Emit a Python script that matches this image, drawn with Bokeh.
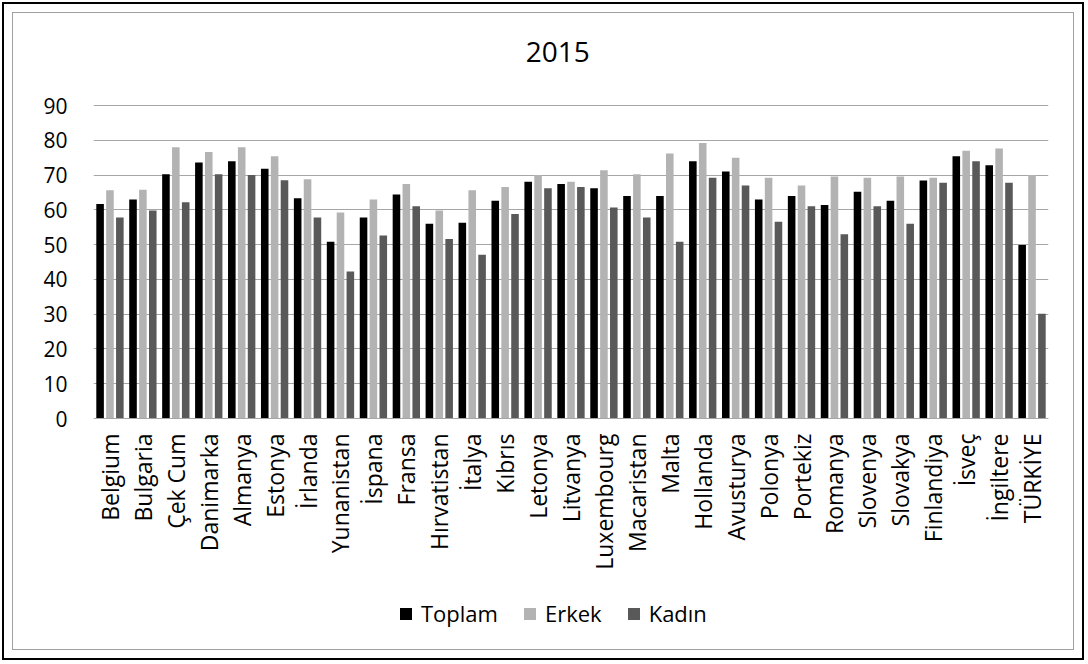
from bokeh.plotting import figure
from bokeh.models import (ColumnDataSource, FactorRange, Range1d, Legend, LegendItem,
                          FixedTicker, Label)
from bokeh.transform import dodge
from bokeh.embed import file_html
from bokeh.resources import INLINE

countries = ["Belgium", "Bulgaria", "Çek Cum", "Danimarka", "Almanya", "Estonya", "İrlanda",
             "Yunanistan", "İspana", "Fransa", "Hırvatistan", "İtalya", "Kıbrıs", "Letonya",
             "Litvanya", "Luxembourg", "Macaristan", "Malta", "Hollanda", "Avusturya", "Polonya",
             "Portekiz", "Romanya", "Slovenya", "Slovakya", "Finlandiya", "İsveç", "İngiltere",
             "TÜRKİYE"]
toplam = [61.7, 63.0, 70.2, 73.6, 74.0, 71.8, 63.3, 50.8, 57.8, 64.4, 56.0, 56.3, 62.6, 68.1,
          67.4, 66.2, 64.0, 64.0, 74.0, 71.0, 63.0, 64.0, 61.4, 65.2, 62.6, 68.4, 75.4, 72.8, 49.9]
erkek = [65.6, 65.8, 78.0, 76.6, 78.0, 75.4, 68.8, 59.2, 63.0, 67.4, 59.8, 65.6, 66.6, 70.0,
         68.1, 71.4, 70.2, 76.2, 79.2, 75.0, 69.2, 67.0, 69.6, 69.2, 69.6, 69.2, 77.0, 77.6, 70.0]
kadin = [57.8, 59.8, 62.2, 70.2, 70.0, 68.5, 57.8, 42.3, 52.6, 61.0, 51.6, 47.1, 58.8, 66.2,
         66.6, 60.7, 57.8, 50.8, 69.2, 67.0, 56.6, 61.0, 53.0, 61.0, 56.0, 67.8, 74.0, 67.8, 30.1]
y_ticks = [0, 10, 20, 30, 40, 50, 60, 70, 80, 90]
series_names = ["Toplam", "Erkek", "Kadın"]
title_text = "2015"
colors = ["#000000", "#b3b3b3", "#595959"]

src = ColumnDataSource(dict(c=countries, t=toplam, e=erkek, k=kadin))

FONT = "Open Sans"
GRID = "#a6a6a6"

# frame spans page y 15..645; value 0 sits at y 418, value 90 at y 105
px_per_unit = 313.0 / 90.0
y_start = -(645 - 418) / px_per_unit
y_end = 90 + (105 - 15) / px_per_unit

p = figure(x_range=FactorRange(factors=countries, range_padding=0),
           y_range=Range1d(y_start, y_end), width=1086, height=662,
           output_backend="svg", toolbar_location=None,
           min_border_left=93, min_border_right=38, min_border_top=15, min_border_bottom=17)
p.outline_line_color = None
p.border_fill_color = None
p.background_fill_color = "#ffffff"

r_t = p.vbar(x=dodge("c", -0.3, range=p.x_range), top="t", bottom=0, width=0.23, source=src,
             fill_color=colors[0], line_color=None)
r_e = p.vbar(x=dodge("c", 0.0, range=p.x_range), top="e", bottom=0, width=0.23, source=src,
             fill_color=colors[1], line_color=None)
r_k = p.vbar(x=dodge("c", 0.3, range=p.x_range), top="k", bottom=0, width=0.23, source=src,
             fill_color=colors[2], line_color=None)

# chart title, centred above the bars
p.add_layout(Label(x=14.1, y=90 + (105 - 51) / px_per_unit, text=title_text,
                   text_align="center", text_baseline="middle", text_font=FONT,
                   text_font_size="28px", text_color="#000000"))

p.xgrid.grid_line_color = None
p.ygrid.ticker = FixedTicker(ticks=y_ticks)
p.ygrid.grid_line_color = GRID
p.ygrid.grid_line_width = 1
p.yaxis.ticker = FixedTicker(ticks=y_ticks)
p.yaxis.axis_line_color = None
p.yaxis.major_tick_line_color = None
p.yaxis.minor_tick_line_color = None
p.yaxis.major_label_text_font = FONT
p.yaxis.major_label_text_font_size = "21px"
p.yaxis.major_label_text_color = "#000000"
p.yaxis.major_label_standoff = 20

p.xaxis.fixed_location = 0
p.xaxis.axis_line_color = GRID
p.xaxis.major_tick_line_color = None
p.xaxis.minor_tick_line_color = None
p.xaxis.major_label_orientation = 1.5707963
p.xaxis.major_label_text_font = FONT
p.xaxis.major_label_text_font_size = "23px"
p.xaxis.major_label_text_color = "#000000"
p.xaxis.major_label_standoff = 9

legend = Legend(items=[LegendItem(label=series_names[0], renderers=[r_t]),
                       LegendItem(label=series_names[1], renderers=[r_e]),
                       LegendItem(label=series_names[2], renderers=[r_k])],
                orientation="horizontal", location=(305, 17),
                label_text_font=FONT, label_text_font_size="22px", label_text_color="#000000",
                glyph_width=15, glyph_height=15, label_standoff=8, spacing=24,
                border_line_color=None, background_fill_alpha=0, margin=0, padding=4)
p.add_layout(legend)

p.styles = {"box-shadow": ("inset 0 0 0 2px #ffffff, inset 0 0 0 4px #000000, "
                           "inset 0 0 0 12px #ffffff, inset 0 0 0 13px #a0a0a0"),
            "background-color": "#ffffff"}

open("out.html", "w").write(file_html(p, INLINE))
